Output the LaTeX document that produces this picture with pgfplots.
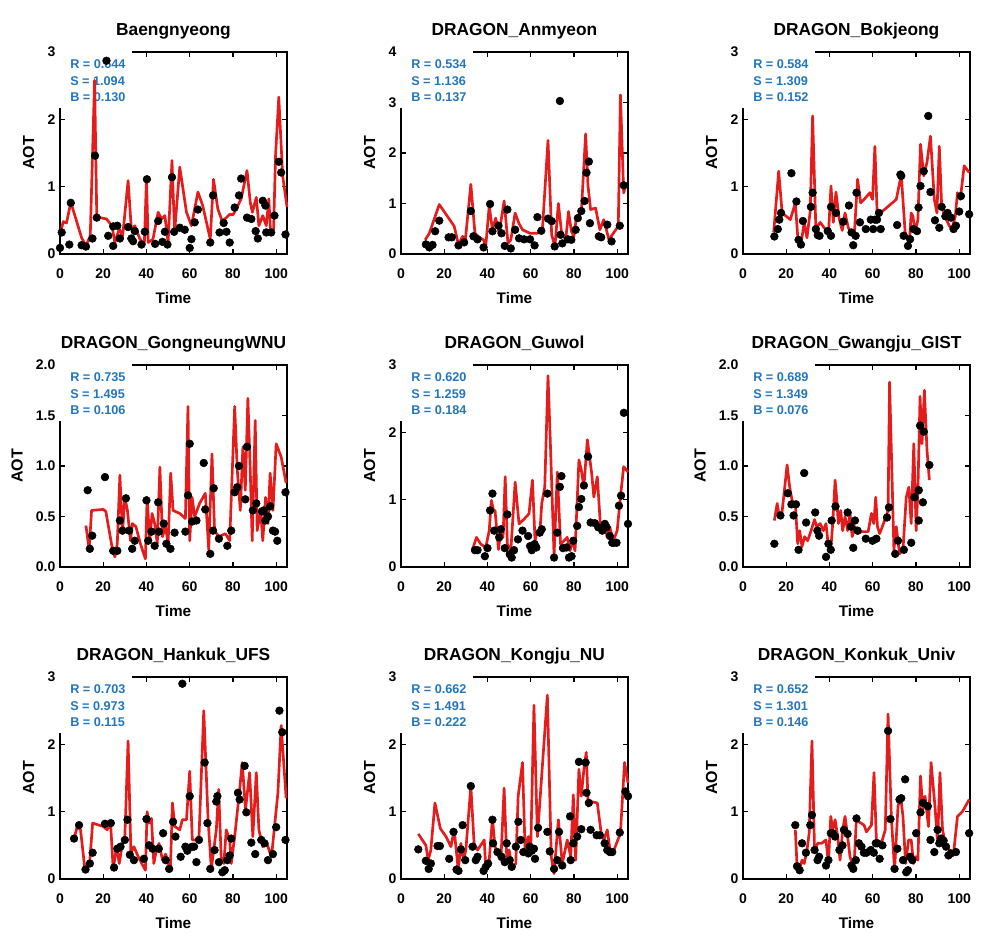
\documentclass[border=0pt]{standalone}
\usepackage{fontspec}
\setmainfont{Liberation Sans}
\usepackage{pgfplots}
\pgfplotsset{compat=1.18}
\definecolor{aotred}{RGB}{228,28,28}
\definecolor{aotblue}{RGB}{35,118,190}
\pgfplotsset{
 panel/.style={
  width=170.25pt, height=151.5pt, scale only axis,
  anchor=south west,
  xmin=0, xmax=105, ymin=0,
  xtick={0,20,40,60,80,100},
  tick align=inside, major tick length=4pt,
  axis line style={line width=0.9pt},
  every tick/.style={line width=0.9pt, black},
  clip=false,
  xlabel={Time}, ylabel={AOT},
  title style={font=\bfseries\fontsize{13}{15}\selectfont, at={(axis description cs:0.5,1)}, anchor=base, yshift=6.5pt},
  xlabel style={font=\bfseries\fontsize{11.5}{13}\selectfont, at={(axis description cs:0.5,0)}, anchor=base, yshift=-37pt},
  ylabel style={font=\bfseries\fontsize{12}{13}\selectfont, yshift=3pt},
  tick label style={font=\bfseries\fontsize{10.5}{12}\selectfont},
  xticklabel style={anchor=base, yshift=-18.5pt},
  /pgf/number format/assume math mode=true,
 },
 obs/.style={only marks, mark=*, mark size=2.9pt, black},
 mod/.style={no marks, line width=2pt, aotred, line join=round},
}
\newcommand{\stats}[3]{%
 \fill[white] (rel axis cs:0,1) ++(-3pt,3pt) rectangle ++(57pt,-45pt);
 \node[anchor=north west, inner sep=0pt, align=left, text=aotblue,
   font=\bfseries\fontsize{9.5}{12.5}\selectfont, xshift=7.5pt, yshift=-5.6pt]
   at (rel axis cs:0,1) {R = #1\\S = #2\\B = #3};
}
\begin{document}
\begin{tikzpicture}
\useasboundingbox (0,0) rectangle (736.5pt,714pt);
% ---------------- Row 1 ----------------
\begin{axis}[panel, at={(45pt,523.5pt)}, ymax=3, ytick={0,1,2,3}, title={Baengnyeong}]
\stats{0.644}{1.094}{0.130}
\addplot[obs] coordinates {(0,0.09)(0.8,0.32)(4.3,0.14)(5,0.76)(10,0.13)(12,0.11)(15,0.23)(16.2,1.46)(17,0.54)(21.5,2.87)(22.3,0.27)(24.6,0.12)(24.6,0.41)(26.5,0.42)(27.7,0.23)(31.5,0.40)(33,0.23)(33.8,0.19)(34.6,0.34)(37.7,0.14)(39.2,0.33)(40.2,1.11)(44,0.15)(45.4,0.49)(47.4,0.18)(48.5,0.33)(49.7,0.14)(51.8,1.14)(52.8,0.33)(55.4,0.39)(57.7,0.36)(60,0.09)(60.8,0.22)(62.3,0.47)(63.8,0.66)(69.5,0.17)(70.8,0.87)(73.8,0.32)(75.7,0.46)(77,0.33)(78.5,0.17)(80.8,0.69)(82.8,0.87)(83.8,1.12)(86.5,0.54)(88.5,0.52)(90.5,0.34)(91.5,0.23)(93.8,0.79)(95,0.72)(95.4,0.32)(97.7,0.32)(99.2,0.57)(101.2,1.37)(102.3,1.21)(104.3,0.29)};
\addplot[mod] coordinates {(0,0.29)(1.5,0.48)(3,0.46)(5,0.77)(10,0.24)(12,0.12)(14,0.27)(16,2.58)(17,0.57)(18.5,0.54)(21.5,0.52)(24,0.42)(25.4,0.17)(27.4,0.37)(29,0.27)(31.5,1.09)(33,0.37)(34.6,0.42)(37,0.22)(39,0.14)(40,1.11)(40.8,0.17)(43,0.22)(45.4,0.62)(47,0.52)(48.5,0.57)(50,0.17)(51.8,1.39)(53,0.32)(55.4,1.29)(58.5,0.62)(60.8,0.42)(63.8,0.92)(66,0.72)(69.5,0.22)(71,1.11)(73,0.67)(75,0.49)(77,0.54)(78.5,0.59)(80,0.58)(82.3,0.72)(83.8,0.82)(86.5,1.24)(88,0.77)(89,0.62)(90.8,0.84)(92,0.42)(93.8,0.57)(95.4,0.42)(96.6,0.82)(97.4,0.32)(98.8,0.37)(99.7,1.46)(101.2,2.33)(103,1.16)(105,0.70)};
\end{axis}
\begin{axis}[panel, at={(300.75pt,523.5pt)}, ymax=4, ytick={0,1,2,3,4}, title={DRAGON\_Anmyeon}]
\stats{0.534}{1.136}{0.137}
\addplot[obs] coordinates {(11.5,0.19)(13.1,0.13)(14.6,0.18)(15.8,0.45)(17.7,0.66)(22,0.33)(23.5,0.33)(26.6,0.17)(29.2,0.23)(32.3,0.85)(33.5,0.35)(35.4,0.29)(38.2,0.13)(41.2,0.99)(42.3,0.45)(45.1,0.56)(46.5,0.41)(48,0.16)(49.2,0.88)(50.8,0.11)(52.8,0.48)(54.6,0.31)(56.9,0.29)(59.7,0.29)(61.8,0.17)(63.1,0.73)(64.9,0.46)(68,0.70)(69.7,0.65)(71.1,0.15)(73.5,3.03)(73.8,0.38)(74.6,0.21)(77.2,0.29)(78.8,0.28)(80.8,0.48)(81.8,0.71)(83.4,0.85)(84.9,1.05)(85.8,1.61)(86.9,1.83)(87.4,0.61)(91.5,0.35)(92.6,0.33)(95.4,0.58)(97.4,0.25)(101.2,0.56)(103,1.36)};
\addplot[mod] coordinates {(11.2,0.28)(13.1,0.41)(17.7,0.98)(24.6,0.55)(26.6,0.18)(28.5,0.35)(29.7,0.25)(32.3,1.38)(34.2,0.41)(36.2,0.33)(38.2,0.28)(39.2,0.15)(40.8,0.95)(42.3,0.48)(43.8,0.71)(45.4,0.41)(47.7,1.05)(49.5,0.21)(50.8,0.28)(52.8,0.81)(54.6,0.60)(56.2,0.48)(59.7,0.41)(63.1,0.41)(65.4,0.48)(68,2.25)(69.7,0.38)(71.2,0.15)(72.8,1.00)(74.3,0.41)(76.2,0.29)(77.5,0.84)(78.8,0.45)(80,0.35)(81.2,0.75)(83.4,0.81)(85.4,2.38)(86.5,1.35)(87.7,0.88)(90,0.91)(92,0.48)(93.8,0.68)(96.2,0.28)(98.2,0.41)(100.5,0.55)(101.5,3.15)(103,1.21)(103.8,1.35)};
\end{axis}
\begin{axis}[panel, at={(557.25pt,523.5pt)}, ymax=3, ytick={0,1,2,3}, title={DRAGON\_Bokjeong}]
\stats{0.584}{1.309}{0.152}
\addplot[obs] coordinates {(14.5,0.26)(16.1,0.37)(16.8,0.51)(17.6,0.61)(22.4,1.20)(24.7,0.78)(25.7,0.21)(26.8,0.14)(27.7,0.49)(31.4,0.70)(32.2,0.91)(33.7,0.37)(34.6,0.28)(35.4,0.27)(39.2,0.34)(40.7,0.27)(40.7,0.70)(43,0.61)(46.4,0.48)(49,0.72)(50.2,0.32)(51,0.13)(52.1,0.27)(52.5,0.91)(54.1,0.47)(56.8,0.37)(59.1,0.51)(60.2,0.37)(61,0.51)(62,0.51)(62.9,0.61)(63.7,0.37)(71.3,0.43)(72.8,1.18)(73.2,1.16)(74.3,0.27)(76.3,0.12)(77.3,0.22)(78.9,0.37)(80.5,0.34)(81.2,0.69)(82.1,1.01)(83.6,1.23)(85.7,2.05)(86.7,0.92)(88.8,0.50)(90.8,0.39)(91.9,0.70)(93.6,0.56)(94.6,0.61)(96.2,0.54)(97.4,0.37)(98.5,0.42)(100,0.63)(100.8,0.86)(104.6,0.59)};
\addplot[mod] coordinates {(14.2,0.32)(16.5,1.23)(18.1,0.61)(21.9,0.51)(24.2,0.76)(25.4,0.22)(26.8,0.14)(28.3,0.47)(29.6,0.24)(31.1,0.64)(32.2,2.05)(33.7,0.37)(35.7,0.47)(38,0.37)(39.5,0.27)(40.7,1.01)(41.8,0.47)(43,0.92)(44.4,0.54)(45.9,0.35)(47.2,0.61)(48.7,0.39)(50.2,0.32)(51.5,0.29)(53,1.11)(54.4,0.76)(56,0.81)(58.7,0.91)(59.9,0.81)(61,1.60)(62,0.64)(62.9,0.59)(70.9,0.81)(73.2,1.18)(75,0.32)(77,0.19)(77.8,0.61)(78.6,0.56)(79.6,0.32)(80.9,0.51)(82.1,1.63)(83.6,1.16)(85.1,1.36)(86.7,1.75)(88.5,0.81)(89.7,0.61)(90.8,1.60)(91.9,0.71)(93.4,0.56)(95.4,0.42)(96.6,0.37)(98.2,0.56)(99.2,0.91)(100.5,0.81)(102.3,1.31)(104.6,1.21)};
\end{axis}
% ---------------- Row 2 ----------------
\begin{axis}[panel, at={(45pt,288.75pt)}, ymax=2, ytick={0,0.5,1,1.5,2},
  yticklabel style={/pgf/number format/.cd,fixed,fixed zerofill,precision=1}, title={DRAGON\_GongneungWNU}]
\stats{0.735}{1.495}{0.106}
\addplot[obs] coordinates {(12.8,0.76)(13.8,0.18)(14.9,0.31)(20.8,0.89)(24.6,0.16)(26.5,0.16)(27.7,0.46)(28.9,0.36)(30.5,0.68)(32,0.36)(33.4,0.18)(34.6,0.26)(40,0.66)(40.8,0.26)(42.3,0.35)(43.8,0.21)(45.4,0.64)(45.8,0.35)(48,0.43)(49.2,0.23)(51.1,0.18)(53,0.34)(58,0.35)(59.2,0.71)(60,1.22)(61.1,0.45)(63.1,0.46)(66.5,1.03)(67.2,0.57)(69.5,0.13)(70.8,0.36)(71.1,0.78)(73.5,0.28)(77.4,0.21)(79.2,0.36)(80.8,0.74)(82,0.79)(82.8,1.00)(85.7,0.67)(86.5,1.19)(89.2,0.56)(90.8,0.63)(93.4,0.55)(94.2,0.56)(95,0.46)(96.2,0.50)(97.2,0.60)(98.5,0.36)(99.5,0.35)(100.5,0.26)(104.3,0.74)};
\addplot[mod] coordinates {(12,0.41)(13.5,0.17)(14.6,0.56)(20,0.57)(21.2,0.55)(24.3,0.17)(25.4,0.10)(26.5,0.23)(27.7,0.91)(28.9,0.33)(30,0.69)(31.2,0.56)(32.6,0.26)(33.5,0.43)(35.1,0.40)(37.2,0.23)(39.5,0.08)(40.3,0.69)(41.5,0.26)(42.6,0.53)(43.8,0.43)(45,0.23)(46.2,0.99)(47.4,0.30)(48.8,0.40)(50,0.23)(51.2,0.93)(52.3,0.56)(55.4,0.53)(58,0.48)(59.2,1.59)(60,0.26)(61.1,0.69)(62.3,0.50)(64.6,0.63)(67.2,0.73)(68.8,0.17)(70.3,1.12)(71.5,0.36)(73.5,0.30)(76.5,0.33)(78.5,0.26)(80.8,1.59)(82,0.96)(83.4,0.56)(84.6,1.19)(85.7,0.76)(86.9,1.67)(88,0.96)(88.9,0.26)(90.3,1.45)(91.2,0.36)(92.8,0.56)(93.8,0.26)(95.1,0.69)(96.2,0.43)(97.2,0.93)(98.5,0.56)(100,1.22)(102.3,1.09)(104.6,0.83)};
\end{axis}
\begin{axis}[panel, at={(300.75pt,288.75pt)}, ymax=3, ytick={0,1,2,3}, title={DRAGON\_Guwol}]
\stats{0.620}{1.259}{0.184}
\addplot[obs] coordinates {(34.2,0.25)(35.4,0.25)(38.8,0.16)(40,0.28)(41.2,0.84)(42.3,1.09)(43.1,0.54)(45.4,0.44)(46.2,0.56)(48,0.28)(49.2,0.78)(50.3,0.19)(51.2,0.14)(52.3,0.25)(54.1,0.41)(56.2,0.54)(58.8,0.46)(59.7,0.31)(60.5,0.25)(61.8,0.34)(62.6,0.29)(64.2,0.51)(65.1,0.56)(67.7,1.09)(70.8,0.14)(72.3,0.51)(73.5,1.19)(74.2,1.35)(74.9,0.28)(76.6,0.29)(77.7,0.14)(78.9,0.16)(79.7,0.39)(81.5,0.61)(82.3,0.89)(83.4,1.01)(84.6,1.21)(86.5,1.64)(87.7,0.66)(89.7,0.65)(91.2,0.59)(93.1,0.54)(94.3,0.64)(95.1,0.59)(96.6,0.46)(97.7,0.36)(98.5,0.36)(99.7,0.36)(100.8,0.91)(101.8,1.06)(103.1,2.29)(105,0.64)};
\addplot[mod] coordinates {(33.1,0.26)(34.9,0.44)(36.9,0.34)(39.2,0.29)(40.8,0.54)(41.8,0.99)(42.8,0.84)(43.5,0.84)(45.1,0.26)(46.2,0.56)(47.2,0.44)(48.2,1.34)(49.2,0.34)(50.8,0.24)(52.8,1.26)(54.6,0.64)(56.9,0.71)(59.2,0.79)(60.8,1.29)(62,0.39)(63.1,0.54)(64.3,0.54)(65.1,0.94)(66.5,1.19)(68,2.84)(69.2,1.74)(70.8,0.16)(72.3,1.41)(73.8,0.34)(75.4,0.39)(76.9,0.44)(78.2,0.24)(79.2,0.39)(80.5,0.24)(82.3,1.59)(83.4,1.44)(84.6,1.19)(86.2,1.89)(88.2,1.39)(89.2,1.04)(90.8,1.34)(92.3,0.59)(94.2,0.64)(95.4,0.44)(96.6,0.59)(98.2,0.39)(100,0.54)(101.5,1.04)(103,1.49)(105,1.41)};
\end{axis}
\begin{axis}[panel, at={(557.25pt,288.75pt)}, ymax=2, ytick={0,0.5,1,1.5,2},
  yticklabel style={/pgf/number format/.cd,fixed,fixed zerofill,precision=1}, title={DRAGON\_Gwangju\_GIST}]
\stats{0.689}{1.349}{0.076}
\addplot[obs] coordinates {(14.5,0.23)(17.3,0.51)(20.7,0.73)(22.4,0.62)(23.4,0.51)(24.5,0.62)(25.7,0.17)(28.3,0.93)(29.2,0.44)(33.4,0.54)(34.4,0.36)(35.2,0.31)(38.4,0.10)(39.5,0.23)(40.6,0.17)(41,0.46)(42.8,0.60)(48.4,0.54)(49.9,0.40)(51,0.19)(51.8,0.46)(53,0.36)(56.8,0.28)(59.9,0.26)(61.7,0.28)(66.6,0.49)(67.5,0.59)(70.4,0.13)(71.7,0.26)(74.4,0.17)(77.8,0.24)(79.3,0.69)(81.3,0.76)(81.3,0.46)(81.9,1.40)(83.2,0.64)(83.6,1.34)(86.2,1.01)};
\addplot[mod] coordinates {(14.5,0.46)(15.8,0.63)(16.8,0.50)(18.1,0.55)(20.4,1.01)(21.6,0.79)(22.7,0.66)(24.2,0.63)(25.3,0.23)(26.2,0.36)(27.3,0.20)(28.5,0.30)(29.9,0.26)(31.5,0.36)(33.1,0.47)(34.1,0.40)(35.7,0.43)(37.2,0.36)(38.4,0.43)(39.5,0.20)(40.6,0.17)(41.5,0.43)(42.6,0.86)(43.3,0.69)(44.1,0.43)(45.2,0.56)(46.1,0.36)(47.2,0.50)(48.4,0.36)(49.5,0.53)(50.5,0.30)(51.8,0.40)(53,0.33)(54.8,0.35)(57.9,0.35)(59.4,0.53)(60.5,0.43)(61.4,0.69)(62.2,0.40)(63.2,0.33)(65.5,0.46)(67.1,0.56)(67.8,1.83)(69.8,0.17)(70.9,0.40)(72.4,0.13)(74,0.17)(75.5,0.69)(76.7,0.79)(77.8,0.43)(79,1.22)(80.1,0.36)(80.9,0.76)(81.9,1.69)(82.8,1.22)(83.9,1.75)(85.1,1.16)(86.2,0.86)};
\end{axis}
% ---------------- Row 3 ----------------
\begin{axis}[panel, at={(45pt,54.75pt)}, ymax=3, ytick={0,1,2,3}, title={DRAGON\_Hankuk\_UFS}]
\stats{0.703}{0.973}{0.115}
\addplot[obs] coordinates {(6.5,0.60)(8.8,0.80)(11.8,0.14)(13.8,0.23)(15.1,0.39)(20.8,0.82)(23.5,0.83)(25,0.17)(26.5,0.45)(28,0.48)(30,0.58)(31.2,0.88)(32.3,0.36)(34.2,0.28)(38.8,0.30)(40,0.89)(41.2,0.50)(42.8,0.45)(45.7,0.45)(47.7,0.68)(48.9,0.28)(50.5,0.15)(52.3,0.85)(53.4,0.63)(55.8,0.33)(56.6,2.90)(58,0.48)(58.9,0.42)(60,1.23)(61.1,0.48)(62,0.48)(63.1,0.25)(64.3,0.58)(66.9,1.73)(68.2,0.83)(69.5,0.15)(71.5,0.43)(72.3,1.15)(72.8,1.23)(73.5,0.25)(75.1,0.10)(76.2,0.13)(77.4,0.28)(78.5,0.35)(79.2,0.60)(82.3,1.28)(83.1,1.18)(85.4,1.68)(86.2,0.99)(88.5,0.54)(90.3,0.37)(93.1,0.58)(94.6,0.53)(96.2,0.28)(98.5,0.37)(100,0.77)(101.5,2.50)(102.8,2.18)(104.3,0.58)};
\addplot[mod] coordinates {(6.5,0.60)(8,0.78)(9.5,0.73)(11.5,0.15)(13.1,0.23)(13.8,0.28)(15.1,0.83)(20,0.78)(21.8,0.73)(23.4,0.83)(24.6,0.15)(26.2,0.48)(27.4,0.23)(28.9,0.53)(30,0.63)(31.5,2.05)(32.8,0.38)(34.2,0.48)(36.2,0.33)(39.5,0.13)(40.3,1.00)(41.2,0.83)(42.3,0.90)(43.4,0.23)(44.6,0.43)(45.8,0.53)(47.4,0.28)(48.9,0.37)(50,0.23)(51.1,0.18)(52,1.13)(53.1,0.78)(55.4,0.73)(56.6,0.88)(58.5,0.88)(60,1.60)(61.2,0.58)(62.8,0.58)(64.3,0.63)(66.5,2.50)(68.5,0.88)(70,0.15)(72.3,0.73)(73.4,1.33)(74.6,0.28)(75.8,0.23)(76.9,0.73)(78.5,0.58)(79.2,0.23)(80.8,0.63)(82.8,1.23)(84.3,1.73)(85.8,1.03)(87.7,1.58)(89.2,0.63)(90.8,1.58)(92,0.73)(93.8,0.48)(95.7,0.53)(97.2,0.38)(98.2,0.45)(100.8,1.28)(102.3,2.28)(104.6,1.20)};
\end{axis}
\begin{axis}[panel, at={(300.75pt,54.75pt)}, ymax=3, ytick={0,1,2,3}, title={DRAGON\_Kongju\_NU}]
\stats{0.662}{1.491}{0.222}
\addplot[obs] coordinates {(8,0.44)(11.5,0.27)(12.8,0.15)(13.8,0.23)(16.9,0.49)(18,0.49)(22.3,0.30)(24.3,0.70)(25.7,0.14)(26.6,0.12)(27.7,0.44)(28.5,0.80)(29.7,0.28)(32.3,1.38)(33.1,0.48)(34.6,0.28)(35.4,0.33)(38.2,0.12)(39.2,0.18)(40.3,0.23)(42.3,0.88)(42.6,0.53)(44.6,0.40)(46.5,0.33)(48,0.25)(48.9,0.53)(50.3,0.28)(51.2,0.18)(53.1,0.48)(54.3,0.85)(55.4,0.58)(56.6,0.40)(58.9,0.38)(59.5,0.48)(60.5,0.42)(61.5,0.45)(62,0.30)(63.4,0.76)(67.7,0.70)(68.8,0.41)(70.8,0.15)(72.3,0.28)(73.1,0.70)(74.6,0.20)(78.2,0.93)(78.5,0.28)(79.7,0.53)(81.5,0.63)(82.3,1.74)(83.4,0.74)(85.4,1.73)(85.8,1.28)(86.9,1.13)(87.7,0.73)(90.5,0.65)(92,0.65)(94.2,0.53)(95.4,0.43)(96.6,0.40)(97.7,0.40)(101.2,0.69)(103.8,1.30)(105,1.23)};
\addplot[mod] coordinates {(8,0.67)(11.5,0.50)(12.6,0.28)(13.8,0.43)(15.7,1.13)(18.2,0.75)(20.8,0.63)(23.1,0.48)(24.6,0.73)(26.5,0.13)(27.7,0.53)(28.9,0.28)(30,0.43)(32.3,1.38)(33.8,0.53)(35.4,0.43)(38.5,0.58)(39.2,0.18)(40.8,0.28)(42.3,0.90)(43.5,0.48)(44.6,0.38)(46.2,0.28)(47.7,1.35)(48.9,0.33)(50,0.43)(51.5,0.15)(53.1,0.23)(54.2,1.23)(56.2,1.73)(57.4,0.43)(58.9,0.63)(60,0.43)(61.5,2.58)(63.1,0.63)(67.7,2.73)(69.5,0.33)(70.8,0.08)(72.8,0.88)(74.6,0.23)(76.9,0.58)(78.5,0.33)(79.7,1.25)(80.8,0.28)(82.3,1.63)(83.4,1.23)(84.6,1.63)(85.7,1.88)(86.6,1.08)(87.7,1.15)(90.8,1.13)(92.6,0.68)(93.8,0.58)(95.4,0.73)(96.9,0.38)(98.5,0.43)(101.5,0.68)(103.4,1.73)(105,1.43)};
\end{axis}
\begin{axis}[panel, at={(557.25pt,54.75pt)}, ymax=3, ytick={0,1,2,3}, title={DRAGON\_Konkuk\_Univ}]
\stats{0.652}{1.301}{0.146}
\addplot[obs] coordinates {(24.2,0.80)(25,0.19)(26.2,0.13)(27.3,0.53)(29.1,0.39)(31.1,0.80)(31.9,0.95)(33.1,0.43)(34.5,0.28)(35.2,0.33)(38.4,0.20)(39.5,0.28)(40.6,0.68)(41.5,0.68)(42.6,0.63)(44.6,0.43)(46,0.50)(46.7,0.73)(48.4,0.67)(50.2,0.20)(51,0.15)(52.2,0.28)(52.5,0.90)(53.6,0.53)(54.8,0.48)(55.9,0.39)(57.1,0.39)(59.1,0.43)(60.5,0.39)(61.4,0.53)(62.2,0.53)(63.2,0.30)(64.5,0.50)(67.1,2.20)(68.2,0.89)(70.1,0.15)(71.4,0.45)(72.4,1.18)(73.2,1.20)(74,0.28)(75,1.48)(75.5,0.10)(76.3,0.13)(77.3,0.33)(78.3,0.28)(80.1,0.68)(82.1,0.99)(83.2,1.13)(85.5,1.08)(86.7,0.58)(88.5,0.40)(90,0.73)(90.8,0.53)(91.6,0.60)(92.8,0.57)(93.9,0.48)(95,0.35)(96.2,0.38)(98.5,0.40)(104.6,0.68)};
\addplot[mod] coordinates {(24.2,0.73)(25,0.20)(26,0.13)(27.3,0.28)(28.3,0.23)(29.6,0.43)(30.6,0.68)(31.9,2.05)(33.1,0.43)(34.6,0.53)(36.4,0.53)(38.4,0.58)(39.5,0.23)(40.6,0.93)(41.5,0.73)(42.6,0.88)(43.8,0.63)(44.9,0.28)(46.1,0.73)(47.2,0.93)(48.4,0.63)(49.5,0.33)(50.5,0.23)(51.5,0.28)(52.5,0.93)(53.6,0.85)(56,0.80)(57.1,0.70)(59.4,0.80)(60.6,1.58)(61.7,0.58)(64,0.53)(65.8,0.73)(67.1,2.45)(68.6,0.93)(70.1,0.13)(71.7,1.08)(72.9,1.23)(74,0.93)(75.2,0.23)(76.6,0.58)(77.8,0.58)(78.9,0.23)(79.8,0.33)(80.9,0.28)(82.1,1.53)(83.2,1.03)(84.2,1.23)(85.8,0.78)(87,1.73)(88.8,1.08)(90,0.53)(91.1,1.58)(92.3,0.73)(93.6,0.53)(95.4,0.43)(97.4,0.38)(99.2,0.93)(101.5,1.00)(104.6,1.18)};
\end{axis}
\end{tikzpicture}
\end{document}
